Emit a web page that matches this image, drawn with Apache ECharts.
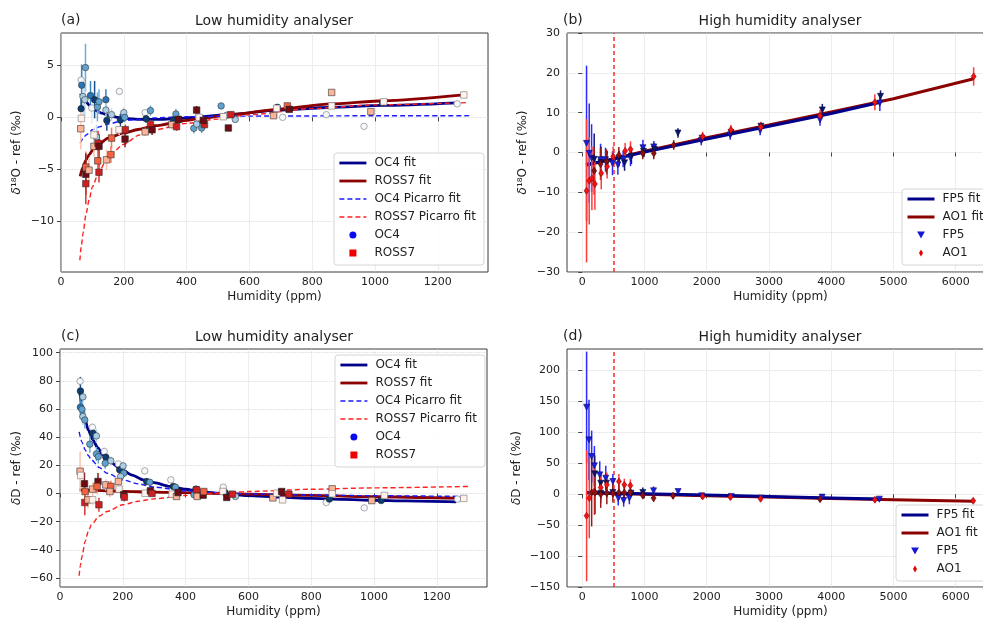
<!DOCTYPE html>
<html><head><meta charset="utf-8">
<script src="https://cdn.jsdelivr.net/npm/echarts@6/dist/echarts.min.js"></script>
<style>html,body{margin:0;padding:0;background:#fff}#c{width:983px;height:621px}</style>
</head><body><div id="c"></div>
<script>
// ---------------- DATA ----------------
const ticksLowX = [0, 200, 400, 600, 800, 1000, 1200];
const ticksHighX = [0, 1000, 2000, 3000, 4000, 5000, 6000];
const ticksA_Y = [-10, -5, 0, 5];
const ticksB_Y = [-30, -20, -10, 0, 10, 20, 30];
const ticksC_Y = [-60, -40, -20, 0, 20, 40, 60, 80, 100];
const ticksD_Y = [-150, -100, -50, 0, 50, 100, 150, 200];
const thresholdPpm = 500;

// Panel (a) d18O, low humidity analyser
const oc4A_x   = [64, 66, 64, 78, 70, 76, 94, 107, 98, 116, 121, 143, 146, 143, 113, 161, 186, 189, 200, 203, 268, 271, 285, 366, 358, 423, 438, 448, 432, 510, 555, 528, 689, 706, 845, 965, 1024, 1262];
const oc4A_y   = [3.6, 3.1, 0.84, 4.8, 2.0, 1.7, 2.1, 1.7, 0.9, 1.0, 1.5, 1.7, -0.3, 0.7, -1.9, 0.26, 2.5, -0.26, 0.45, 0.0, 0.45, -0.13, 0.65, 0.32, -0.26, -1.06, 0.06, -1.03, -0.65, 1.1, -0.2, 0.2, 0.97, 0.0, 0.26, -0.87, 1.4, 1.3];
const oc4A_err = [1.5, 2.0, 1.0, 2.3, 1.8, 1.5, 1.4, 1.8, 1.5, 1.4, 1.2, 1.0, 1.0, 0.8, 1.2, 0.6, 0.3, 0.6, 0.5, 0.5, 0.3, 0.4, 0.5, 0.5, 0.4, 0.5, 0.3, 0.5, 0.4, 0.3, 0.3, 0.3, 0.3, 0.2, 0.2, 0.2, 0.2, 0.2];
const oc4A_run = [0, 3, 4, 2, 1, 1, 3, 4, 0, 2, 2, 3, 4, 1, 1, 1, 0, 4, 1, 2, 0, 4, 2, 2, 4, 2, 0, 2, 1, 2, 1, 1, 4, 0, 0, 0, 4, 0];

const rossA_x   = [63, 65, 79, 79, 79, 89, 105, 105, 118, 121, 117, 121, 145, 159, 161, 185, 205, 204, 268, 285, 290, 353, 368, 374, 432, 440, 457, 453, 517, 533, 541, 677, 687, 721, 727, 862, 862, 987, 1028, 1283];
const rossA_y   = [-1.1, -0.1, -4.8, -5.5, -6.4, -5.1, -1.7, -2.8, -2.5, -2.8, -4.2, -5.3, -4.1, -3.6, -2.0, -1.2, -1.2, -2.1, -1.4, -0.7, -1.2, -0.7, -0.9, -0.2, 0.7, 0.0, -0.7, -0.3, 0.06, -1.03, 0.26, 0.16, 0.87, 1.1, 0.77, 2.4, 1.1, 0.55, 1.5, 2.16];
const rossA_err = [2.0, 1.0, 1.5, 2.0, 2.0, 1.2, 0.8, 1.0, 1.2, 1.2, 1.0, 1.0, 1.0, 0.8, 1.0, 0.5, 0.5, 0.8, 0.4, 0.4, 0.5, 0.4, 0.4, 0.4, 0.4, 0.3, 0.4, 0.4, 0.3, 0.3, 0.3, 0.2, 0.2, 0.2, 0.2, 0.2, 0.2, 0.2, 0.2, 0.2];
const rossA_run = [1, 0, 2, 4, 3, 1, 0, 1, 3, 4, 2, 3, 1, 2, 2, 0, 3, 4, 1, 3, 4, 1, 3, 4, 4, 0, 3, 4, 0, 4, 3, 1, 0, 2, 4, 1, 0, 1, 0, 0];

const oc4FitA_x = [62, 70, 80, 90, 102, 115, 130, 155, 180, 209, 260, 315, 380, 443, 550, 687, 857, 1024, 1262];
const oc4FitA_y = [2.3, 1.9, 1.5, 1.15, 0.87, 0.6, 0.4, 0.13, 0.0, -0.13, -0.2, -0.2, -0.1, 0.05, 0.3, 0.7, 0.95, 1.15, 1.4];
const rossFitA_x = [61, 70, 80, 90, 100, 120, 150, 200, 250, 300, 400, 443, 549, 698, 857, 1028, 1283];
const rossFitA_y = [-5.7, -4.8, -4.1, -3.6, -3.2, -2.6, -2.0, -1.5, -1.15, -0.8, -0.3, -0.1, 0.29, 0.8, 1.29, 1.6, 2.16];
const oc4PicA_x = [61, 70, 80, 100, 125, 150, 200, 300, 400, 600, 1000, 1300];
const oc4PicA_y = [-2.5, -2.05, -1.7, -1.2, -0.9, -0.65, -0.3, -0.05, 0.06, 0.12, 0.15, 0.16];
const rossPicA_x = [60, 65, 70, 80, 90, 100, 120, 150, 200, 250, 300, 400, 500, 600, 800, 1000, 1294];
const rossPicA_y = [-13.8, -12.4, -11.2, -9.3, -7.9, -6.7, -5.3, -3.8, -2.6, -1.7, -1.2, -0.58, -0.16, 0.25, 0.85, 1.2, 1.42];

// Panel (b) d18O, high humidity analyser
const fp5B_x   = [69, 112, 150, 192, 294, 300, 374, 400, 486, 572, 590, 657, 680, 775, 790, 975, 985, 1150, 1160, 1538, 1912, 1925, 2377, 2390, 2858, 2870, 3820, 3857, 4781, 4792];
const fp5B_y   = [2.3, -0.2, -1.4, -1.7, -1.8, -2.5, -1.8, -2.6, -2.7, -3.1, -1.5, -1.7, -2.6, -1.4, -0.9, 1.2, 0.3, 1.4, 0.8, 4.9, 3.0, 3.6, 4.4, 5.0, 5.6, 6.6, 8.2, 10.7, 12.4, 14.1];
const fp5B_err = [19.5, 12.5, 8.5, 6.5, 4, 4, 3, 3, 3, 2.5, 2, 2, 2, 2, 2, 2, 1.5, 1.5, 1.5, 1.2, 1.2, 1.0, 1.2, 1.0, 1.3, 1.0, 1.5, 1.5, 2, 1.5];
const fp5B_run = [0, 0, 0, 1, 0, 1, 0, 1, 0, 0, 1, 0, 1, 0, 1, 0, 1, 0, 1, 1, 0, 1, 0, 1, 0, 1, 0, 1, 0, 1];
const ao1B_x   = [69, 112, 155, 192, 203, 294, 305, 400, 390, 497, 588, 689, 775, 972, 1149, 1469, 1934, 2388, 2869, 3820, 4701, 6288];
const ao1B_y   = [-9.6, -7.1, -6.5, -4.6, -7.9, -2.9, -5.2, -3.5, -2.2, -1.0, -0.6, 0.4, 0.8, -0.2, -0.2, 1.9, 4.0, 5.7, 6.4, 9.2, 12.6, 19.1];
const ao1B_err = [18, 11, 8, 6, 6.5, 4, 4, 3, 3, 2.5, 2, 2, 2, 1.5, 1.5, 1.2, 1.2, 1.2, 1.3, 1.5, 2, 2.3];
const ao1B_run = [0, 0, 0, 1, 0, 1, 0, 0, 1, 0, 1, 0, 0, 1, 1, 1, 0, 0, 0, 0, 0, 0];
const fp5FitB_x = [60, 500, 1000, 2000, 3000, 4000, 4790];
const fp5FitB_y = [-3.0, -1.7, 0.1, 3.4, 6.6, 9.8, 12.6];
const ao1FitB_x = [60, 500, 1000, 2000, 3000, 4000, 5000, 6290];
const ao1FitB_y = [-3.2, -1.6, 0.3, 3.7, 6.9, 10.2, 13.5, 18.5];

// Panel (c) dD, low humidity analyser
const oc4C_x   = [64, 65, 65, 73, 70, 73, 79, 103, 105, 116, 95, 116, 122, 141, 146, 144, 162, 186, 190, 201, 203, 193, 270, 276, 286, 353, 361, 368, 433, 427, 441, 520, 526, 559, 848, 858, 969, 1023, 1266];
const oc4C_y   = [79.7, 72.8, 61.2, 68.6, 59.8, 54.6, 52.2, 47, 42.8, 40.9, 35, 28.1, 26.2, 29.8, 25.8, 21.5, 23.2, 21.0, 16.8, 19.6, 14.4, 12.1, 16.1, 8.5, 8.0, 9.7, 5.0, 4.5, 3.1, -0.9, 0.7, 4.5, 0.7, -2.1, -6.4, -4.0, -10.2, -5.0, -4.0];
const oc4C_err = [3, 10, 8, 6, 6, 6, 6, 3, 5, 5, 6, 5, 5, 3, 4, 4, 3, 2, 3, 3, 3, 3, 1, 2, 2, 1, 2, 2, 1.5, 1.5, 1.5, 1, 1, 1, 1, 1, 1, 1, 1];
const oc4C_run = [0, 4, 3, 1, 2, 1, 2, 0, 4, 1, 2, 2, 2, 0, 4, 2, 1, 0, 4, 1, 2, 1, 0, 4, 2, 0, 4, 2, 4, 2, 1, 0, 4, 1, 0, 4, 0, 4, 0];
const rossC_x   = [64, 66, 78, 79, 80, 89, 104, 104, 121, 118, 124, 146, 162, 159, 186, 188, 203, 205, 271, 288, 293, 357, 371, 376, 435, 437, 456, 458, 519, 531, 549, 678, 690, 709, 706, 729, 867, 867, 993, 1033, 1286];
const rossC_y   = [15.8, 12.8, 6.9, -6.4, 1.4, -4.5, -4.5, 3.1, 8.5, 5.0, -8.0, 6.1, 5.0, 1.4, 8.5, 3.1, -0.9, -2.6, 0.2, 1.9, 0.0, -0.5, -2.1, 0.7, 2.6, -2.1, -1.2, 1.4, 1.4, -2.8, -0.5, -3.1, 0.2, -4.5, 1.4, -0.5, 3.3, -0.2, -5.0, -1.4, -3.5];
const rossC_err = [14, 5, 8, 9, 6, 6, 4, 5, 6, 5, 5, 4, 4, 4, 3, 2, 3, 3, 2, 2, 2, 1.5, 1.5, 1.5, 1.5, 1.5, 1.5, 1.5, 1, 1, 1, 1, 1, 1, 1, 1, 1, 1, 1, 1, 1];
const rossC_run = [1, 0, 4, 3, 2, 1, 0, 1, 4, 2, 3, 1, 2, 1, 1, 0, 4, 3, 0, 4, 3, 0, 1, 4, 3, 1, 4, 2, 0, 4, 3, 1, 0, 0, 4, 3, 1, 0, 1, 0, 0];
const oc4FitC_x = [62, 70, 79, 90, 105, 120, 137, 160, 190, 230, 265, 300, 350, 400, 446, 500, 600, 700, 800, 900, 1000, 1100, 1262];
const oc4FitC_y = [73.5, 63, 53.4, 45, 38, 32.5, 27.4, 22.5, 18, 13, 9.7, 7.7, 5, 3, 1.4, 0.3, -1.5, -2.6, -3.5, -4.2, -4.8, -5.3, -6.0];
const rossFitC_x = [62, 100, 200, 300, 400, 500, 600, 800, 1000, 1285];
const rossFitC_y = [2.6, 2.2, 1.5, 1.0, 0.6, 0.1, -0.4, -1.4, -2.3, -3.5];
const oc4PicC_x = [61, 70, 80, 90, 100, 125, 150, 200, 250, 300, 400, 500, 600, 800, 1000, 1300];
const oc4PicC_y = [43.7, 36.5, 31, 27, 24, 18.5, 14.4, 9.7, 6.8, 4.5, 1.9, 0.5, -0.3, -1.1, -1.6, -2.1];
const rossPicC_x = [61, 65, 70, 80, 90, 100, 125, 150, 200, 250, 300, 400, 500, 600, 800, 1000, 1300];
const rossPicC_y = [-58.4, -51, -44.7, -34, -27, -22.2, -16, -12.8, -8, -5.5, -3.8, -1.4, 0.2, 1.4, 3.0, 4.0, 5.0];

// Panel (d) dD, high humidity analyser
const fp5D_x   = [70, 108, 151, 195, 200, 281, 297, 378, 389, 492, 578, 665, 757, 297, 492, 784, 973, 1146, 1540, 1919, 2394, 2870, 3854, 4773];
const fp5D_y   = [140.8, 88, 61, 46, 33, 31.4, 18, 26, 18, 20.7, -6.2, -10, -6.2, 1.8, 2.9, 1.8, 2.9, 5.6, 4.5, -2.5, -3.5, -6.2, -4.6, -7.9];
const fp5D_err = [90, 65, 42, 32, 30, 22, 18, 20, 15, 12, 12, 10, 10, 10, 8, 6, 8, 7, 4, 4, 4, 4, 4, 4];
const fp5D_run = [0, 0, 0, 0, 1, 0, 1, 0, 1, 0, 0, 0, 0, 1, 1, 1, 1, 0, 0, 0, 0, 0, 0, 0];
const ao1D_x   = [70, 113, 151, 195, 205, 297, 297, 395, 395, 492, 589, 589, 676, 676, 773, 773, 973, 1146, 1459, 1935, 2378, 2865, 3821, 4702, 6281];
const ao1D_y   = [-34.7, -6.2, 2.9, 4.5, 2.9, 11, 0, 15.3, 1.8, 1.8, 20.7, 2.9, 15.3, 2.9, 14.2, 2.9, -1.9, -6.2, -2.5, -3.5, -4.6, -7.3, -7.9, -8.9, -10.5];
const ao1D_err = [106, 65, 55, 38, 35, 25, 22, 20, 18, 15, 12, 12, 10, 10, 10, 10, 6, 6, 5, 4, 4, 4, 4, 4, 4];
const ao1D_run = [0, 0, 1, 0, 1, 0, 1, 0, 1, 1, 0, 1, 0, 1, 0, 1, 1, 1, 1, 0, 0, 0, 1, 0, 0];
const fp5FitD_x = [60, 500, 1000, 2000, 3000, 4000, 4790];
const fp5FitD_y = [3.0, 2.0, 1.0, -1.3, -3.6, -5.9, -7.8];
const ao1FitD_x = [60, 1000, 2000, 3000, 4000, 5000, 6290];
const ao1FitD_y = [2.0, 0.0, -2.2, -4.5, -6.8, -8.8, -11.4];

// ---------------- STYLE ----------------
const FONT = 'DejaVu Sans';
const TXT = '#1e1e1e';
const bluesFill = ['#f4f8fc', '#a9cfe8', '#5fa3d1', '#2a74b5', '#0b3c72'];
const bluesBar  = ['#dde9f4', '#bcd8ee', '#6aaed6', '#3a84c1', '#1a4f8a'];
const redsFill  = ['#fff1eb', '#fcb397', '#f6613f', '#cf1f20', '#6e0b12'];
const redsBar   = ['#fde6dc', '#fcc4ad', '#f77a5d', '#d8352f', '#8a1a1e'];
const edgeCirc  = ['#777', '#333', '#333', '#333', '#222'];
const fp5Fill = ['#1c1ce6', '#0b1766'];
const fp5Bar  = ['#2a2aff', '#101a70'];
const fp5Edge = ['#0a0a60', '#050a40'];
const ao1Fill = ['#f21414', '#8b1212'];
const ao1Bar  = ['#ff3b3b', '#9a1a1a'];
const ao1Edge = ['#900', '#500'];

const ICON_SQUARE = 'path://M0,0H10V10H0Z';
const ICON_TRI_DOWN = 'path://M0,0H10L5,9Z';
const ICON_DIAMOND = 'path://M5,0L9,7L5,14L1,7Z';

const minus = v => String(v).replace('-', '\u2212');

function xAx(gi, min, max, ticks) {
  return {
    type: 'value', gridIndex: gi, min, max,
    name: 'Humidity (ppm)', nameLocation: 'middle', nameGap: 19,
    nameTextStyle: {fontSize: 12, color: TXT, fontFamily: FONT},
    axisLine: {show: false},
    axisTick: {show: true, length: 4, lineStyle: {color: '#444'}, customValues: ticks},
    axisLabel: {customValues: ticks, formatter: minus, fontSize: 11, color: TXT, fontFamily: FONT, margin: 5},
    splitLine: {show: true, lineStyle: {color: '#d2d2d2', type: 'dotted', width: 0.8}}
  };
}
function yAx(gi, min, max, ticks, name, gap) {
  return {
    type: 'value', gridIndex: gi, min, max,
    name, nameLocation: 'middle', nameRotate: 90, nameGap: gap,
    nameTextStyle: {fontSize: 12, color: TXT, fontFamily: FONT,
      rich: {i: {fontStyle: 'italic', fontSize: 12, color: TXT, fontFamily: FONT}}},
    axisLine: {show: false},
    axisTick: {show: true, length: 4, lineStyle: {color: '#444'}, customValues: ticks},
    axisLabel: {customValues: ticks, formatter: minus, fontSize: 11, color: TXT, fontFamily: FONT, margin: 7},
    splitLine: {show: true, lineStyle: {color: '#d2d2d2', type: 'dotted', width: 0.8}}
  };
}
function lineS(name, gi, xs, ys, color, width, dashed, z, smooth, extra) {
  return Object.assign({
    type: 'line', name, xAxisIndex: gi, yAxisIndex: gi,
    data: xs.map((x, i) => [x, ys[i]]),
    symbol: 'none', showSymbol: false, smooth: smooth, smoothMonotone: 'x',
    lineStyle: {color, width, type: dashed ? [5, 3] : 'solid'},
    itemStyle: {color}, z, silent: true, clip: true
  }, extra || {});
}
function scatterS(name, gi, xs, ys, runs, fills, edges, symbol, size, rotate, legendColor, z) {
  return {
    type: 'scatter', name, xAxisIndex: gi, yAxisIndex: gi,
    symbol, symbolSize: size, symbolRotate: rotate,
    data: xs.map((x, i) => ({value: [x, ys[i]], itemStyle: {color: fills[runs[i]], borderColor: edges[runs[i]]}})),
    itemStyle: {color: legendColor, borderColor: '#333', borderWidth: 0.6, opacity: 1},
    z, silent: true
  };
}
function errS(gi, xs, ys, errs, runs, bars, z) {
  return {
    type: 'custom', name: 'err' + gi + '_' + z, xAxisIndex: gi, yAxisIndex: gi, z, silent: true, clip: true,
    data: xs.map((x, i) => [x, ys[i], errs[i], runs[i]]),
    encode: {x: 0, y: 1},
    renderItem: (params, api) => {
      const x = api.value(0), y = api.value(1), e = api.value(2), r = api.value(3);
      const p1 = api.coord([x, y - e]), p2 = api.coord([x, y + e]);
      return {type: 'line', shape: {x1: p1[0], y1: p1[1], x2: p2[0], y2: p2[1]},
        style: {stroke: bars[r], lineWidth: 1.5}};
    }
  };
}
const vline = {
  markLine: {silent: true, symbol: ['none', 'none'], label: {show: false}, animation: false,
    lineStyle: {color: '#ff2a2a', type: [4, 3], width: 1.5}, data: [{xAxis: thresholdPpm}]}
};

const gridBase = {show: true, borderColor: '#3c3c3c', borderWidth: 1, backgroundColor: 'transparent', containLabel: false, outerBoundsMode: 'none'};
const grids = [
  Object.assign({left: 61, top: 33, width: 427, height: 239}, gridBase),
  Object.assign({left: 567, top: 33, width: 427, height: 239}, gridBase),
  Object.assign({left: 60, top: 349, width: 427, height: 238}, gridBase),
  Object.assign({left: 567, top: 349, width: 427, height: 238}, gridBase)
];

const legBase = {
  orient: 'vertical', selectedMode: false, itemWidth: 27, itemHeight: 7, itemGap: 4,
  backgroundColor: 'rgba(255,255,255,0.85)', borderColor: '#d6d6d6', borderWidth: 1, borderRadius: 3,
  padding: [3, 8, 5, 4], symbolKeepAspect: true,
  textStyle: {fontSize: 12, color: TXT, fontFamily: FONT, lineHeight: 14, padding: [0, 0, 0, 3]},
  lineStyle: {width: 'inherit'}, itemStyle: {borderWidth: 0}
};
const hideSym = {opacity: 0};
const lowLegend = [
  {name: 'OC4 fit', itemStyle: hideSym}, {name: 'ROSS7 fit', itemStyle: hideSym},
  {name: 'OC4 Picarro fit', itemStyle: hideSym}, {name: 'ROSS7 Picarro fit', itemStyle: hideSym},
  {name: 'OC4', icon: 'circle'}, {name: 'ROSS7', icon: ICON_SQUARE}
];
const highLegend = [
  {name: 'FP5 fit', itemStyle: hideSym}, {name: 'AO1 fit', itemStyle: hideSym},
  {name: 'FP5', icon: ICON_TRI_DOWN}, {name: 'AO1', icon: ICON_DIAMOND}
];

const titleStyle = {fontSize: 14, fontWeight: 'normal', color: TXT, fontFamily: FONT};
const titles = [
  {text: '(a)', left: 61, top: 13}, {text: 'Low humidity analyser', left: 274, top: 14, textAlign: 'center'},
  {text: '(b)', left: 563, top: 13}, {text: 'High humidity analyser', left: 780, top: 14, textAlign: 'center'},
  {text: '(c)', left: 61, top: 329}, {text: 'Low humidity analyser', left: 274, top: 330, textAlign: 'center'},
  {text: '(d)', left: 563, top: 329}, {text: 'High humidity analyser', left: 780, top: 330, textAlign: 'center'}
].map(t => Object.assign(t, {textStyle: titleStyle, padding: 0}));

const d18 = '{i|\u03b4}\u00b9\u2078O - ref (\u2030)';
const dD = '{i|\u03b4}D - ref (\u2030)';

const series = [
  // (a)
  lineS('OC4 fit', 0, oc4FitA_x, oc4FitA_y, '#00008b', 2.8, false, 2, 0.25),
  lineS('ROSS7 fit', 0, rossFitA_x, rossFitA_y, '#8b0000', 2.8, false, 2, 0.25),
  lineS('OC4 Picarro fit', 0, oc4PicA_x, oc4PicA_y, '#1a1aff', 1.4, true, 3, 0.25),
  lineS('ROSS7 Picarro fit', 0, rossPicA_x, rossPicA_y, '#ff2020', 1.4, true, 3, 0.25),
  errS(0, oc4A_x, oc4A_y, oc4A_err, oc4A_run, bluesBar, 4),
  errS(0, rossA_x, rossA_y, rossA_err, rossA_run, redsBar, 4),
  scatterS('OC4', 0, oc4A_x, oc4A_y, oc4A_run, bluesFill, edgeCirc, 'circle', 6.5, 0, '#0a0af0', 5),
  scatterS('ROSS7', 0, rossA_x, rossA_y, rossA_run, redsFill, edgeCirc, 'rect', 6.5, 0, '#f00000', 5),
  // (b)
  lineS('AO1 fit', 1, ao1FitB_x, ao1FitB_y, '#8b0000', 3, false, 2, false, vline),
  lineS('FP5 fit', 1, fp5FitB_x, fp5FitB_y, '#00008b', 3, false, 2, false),
  errS(1, fp5B_x, fp5B_y, fp5B_err, fp5B_run, fp5Bar, 3),
  errS(1, ao1B_x, ao1B_y, ao1B_err, ao1B_run, ao1Bar, 3),
  scatterS('FP5', 1, fp5B_x, fp5B_y, fp5B_run, fp5Fill, fp5Edge, 'triangle', 6, 180, '#1515d8', 5),
  scatterS('AO1', 1, ao1B_x, ao1B_y, ao1B_run, ao1Fill, ao1Edge, 'diamond', [5, 7], 0, '#e80000', 5),
  // (c)
  lineS('OC4 fit', 2, oc4FitC_x, oc4FitC_y, '#00008b', 2.8, false, 2, 0.25),
  lineS('ROSS7 fit', 2, rossFitC_x, rossFitC_y, '#8b0000', 2.8, false, 2, 0.25),
  lineS('OC4 Picarro fit', 2, oc4PicC_x, oc4PicC_y, '#1a1aff', 1.4, true, 3, 0.25),
  lineS('ROSS7 Picarro fit', 2, rossPicC_x, rossPicC_y, '#ff2020', 1.4, true, 3, 0.25),
  errS(2, oc4C_x, oc4C_y, oc4C_err, oc4C_run, bluesBar, 4),
  errS(2, rossC_x, rossC_y, rossC_err, rossC_run, redsBar, 4),
  scatterS('OC4', 2, oc4C_x, oc4C_y, oc4C_run, bluesFill, edgeCirc, 'circle', 6.5, 0, '#0a0af0', 5),
  scatterS('ROSS7', 2, rossC_x, rossC_y, rossC_run, redsFill, edgeCirc, 'rect', 6.5, 0, '#f00000', 5),
  // (d)
  lineS('AO1 fit', 3, ao1FitD_x, ao1FitD_y, '#8b0000', 3, false, 2, false, vline),
  lineS('FP5 fit', 3, fp5FitD_x, fp5FitD_y, '#00008b', 3, false, 2, false),
  errS(3, fp5D_x, fp5D_y, fp5D_err, fp5D_run, fp5Bar, 3),
  errS(3, ao1D_x, ao1D_y, ao1D_err, ao1D_run, ao1Bar, 3),
  scatterS('FP5', 3, fp5D_x, fp5D_y, fp5D_run, fp5Fill, fp5Edge, 'triangle', 6, 180, '#1515d8', 5),
  scatterS('AO1', 3, ao1D_x, ao1D_y, ao1D_run, ao1Fill, ao1Edge, 'diamond', [5, 7], 0, '#e80000', 5)
];

const chart = echarts.init(document.getElementById('c'), null, {renderer: 'canvas'});
chart.setOption({
  animation: false,
  backgroundColor: '#ffffff',
  title: titles,
  grid: grids,
  xAxis: [xAx(0, 0, 1360, ticksLowX), xAx(1, -245, 6615, ticksHighX), xAx(2, 0, 1360, ticksLowX), xAx(3, -245, 6615, ticksHighX)],
  yAxis: [yAx(0, -14.93, 8.14, ticksA_Y, d18, 38), yAx(1, -30, 30, ticksB_Y, d18, 38),
          yAx(2, -66.4, 102.6, ticksC_Y, dD, 37), yAx(3, -150, 235, ticksD_Y, dD, 44)],
  legend: [
    Object.assign({}, legBase, {left: 334, top: 153, data: lowLegend}),
    Object.assign({}, legBase, {left: 902, top: 189, data: highLegend}),
    Object.assign({}, legBase, {left: 335, top: 355, data: lowLegend}),
    Object.assign({}, legBase, {left: 896, top: 505, data: highLegend})
  ],
  series
});
</script></body></html>
